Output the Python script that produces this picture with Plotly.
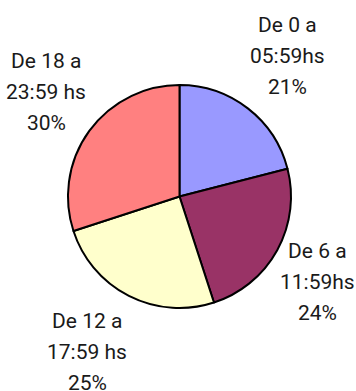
import plotly.graph_objects as go

labels = ["De 0 a<br>05:59hs", "De 6 a<br>11:59hs", "De 12 a<br>17:59 hs", "De 18 a<br>23:59 hs"]
values = [21, 24, 25, 30]
colors = ["#9999FF", "#993366", "#FFFFCC", "#FF8080"]

# caption centre (px from left) and first-line centre (px from top) per slice
cap_x = [287, 317, 87, 46]
cap_y = [25, 250.5, 320.5, 61]
line_gap = 31

W, H = 356, 391

fig = go.Figure(go.Pie(
    labels=labels,
    values=values,
    sort=False,
    direction="clockwise",
    rotation=0,
    marker=dict(colors=colors, line=dict(color="black", width=2)),
    textinfo="none",
    hoverinfo="label+percent",
    domain=dict(x=[68 / W, 291 / W], y=[83 / H, 306 / H]),
    showlegend=False,
))

font = dict(family="Roboto, DejaVu Sans Condensed, sans-serif",
            size=21, color="#1a1a1a")

for lab, v, cx, cy in zip(labels, values, cap_x, cap_y):
    lines = lab.split("<br>") + [f"{v}%"]
    for i, line in enumerate(lines):
        fig.add_annotation(
            x=cx / W, y=1 - (cy + i * line_gap) / H,
            xref="paper", yref="paper",
            xanchor="center", yanchor="middle",
            text=line, showarrow=False, font=font,
        )

fig.update_layout(
    width=W, height=H,
    margin=dict(l=0, r=0, t=0, b=0),
    paper_bgcolor="white", plot_bgcolor="white",
)

fig.write_html("out.html")
